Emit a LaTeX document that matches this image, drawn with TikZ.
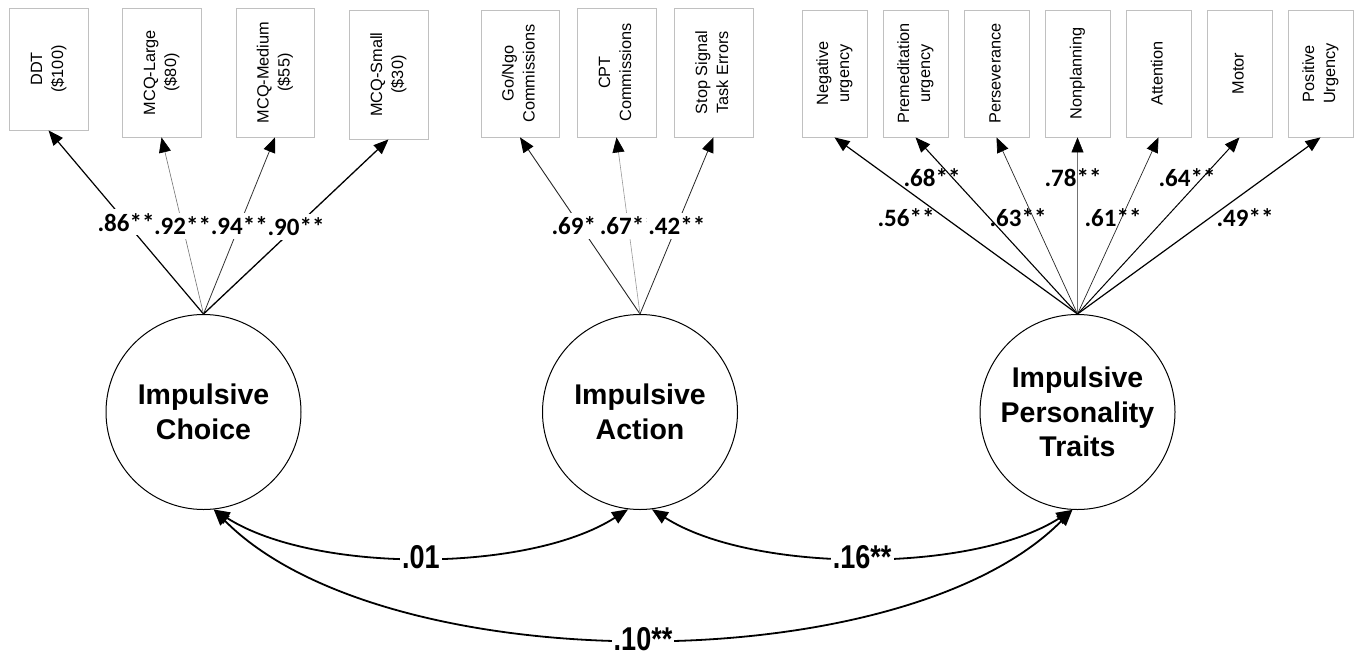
\documentclass[tikz,border=0pt]{standalone}
\usepackage{fontspec}
\setmainfont{Liberation Sans}
\newfontfamily\calfont{Carlito}
\usetikzlibrary{arrows.meta}
\definecolor{boxgray}{HTML}{C0C0C0}
\newcommand\vtext[1]{\rotatebox{90}{\begin{tabular}{@{}c@{}}#1\end{tabular}}}
\newcommand\narrow[1]{\scalebox{0.82}[1]{#1}}
\begin{document}
\begin{tikzpicture}[x=1pt,y=-1pt,
  obs/.style={draw=boxgray, line width=0.8pt, inner sep=0pt, fill=white, font=\fontsize{16.3}{21}\selectfont},
  lat/.style={circle, draw=black, line width=1pt, minimum size=195pt, inner sep=0pt, align=center, font=\fontsize{28.5}{34.5}\selectfont\bfseries},
  load/.style={-{Triangle[length=15pt,width=12pt,color=black]}},
  ldlbl/.style={fill=white, text=black, inner xsep=1.5pt, inner ysep=4pt, font=\calfont\bfseries\fontsize{25}{25}\selectfont},
  plbl/.style={inner sep=0pt, text=black, font=\calfont\bfseries\fontsize{25}{25}\selectfont},
  cov/.style={{Triangle[length=16pt,width=13pt]}-{Triangle[length=16pt,width=13pt]}, line width=1.8pt},
  covlbl/.style={fill=white, inner sep=2pt, font=\bfseries\fontsize{33}{33}\selectfont},
]
\useasboundingbox (0,0) rectangle (1360,656);

% observed indicators
\node[obs, minimum width=79pt, minimum height=122pt] (ddt) at (48.5,69) {\vtext{DDT\\(\$100)}};
\node[obs, minimum width=79pt, minimum height=129pt] (mcql) at (161.5,72.5) {\vtext{MCQ-Large\\(\$80)}};
\node[obs, minimum width=78pt, minimum height=129pt] (mcqm) at (275,72.5) {\vtext{MCQ-Medium\\(\$55)}};
\node[obs, minimum width=79pt, minimum height=129pt] (mcqs) at (388.5,74.5) {\vtext{MCQ-Small\\(\$30)}};

\node[obs, minimum width=78pt, minimum height=127pt] (gng) at (520,73.5) {\vtext{Go/Ngo\\Commissions}};
\node[obs, minimum width=79pt, minimum height=129pt] (cpt) at (616.5,72.5) {\vtext{CPT\\Commissions}};
\node[obs, minimum width=79pt, minimum height=129pt] (sst) at (713.5,72.5) {\vtext{Stop Signal\\Task Errors}};

\node[obs, minimum width=65pt, minimum height=127pt] (negu) at (834.5,73.5) {\vtext{Negative\\urgency}};
\node[obs, minimum width=65pt, minimum height=127pt] (prem) at (915.5,73.5) {\vtext{Premeditation\\urgency}};
\node[obs, minimum width=65pt, minimum height=127pt] (pers) at (996.5,73.5) {\vtext{Perseverance}};
\node[obs, minimum width=65pt, minimum height=127pt] (nonp) at (1077.5,73.5) {\vtext{Nonplanning}};
\node[obs, minimum width=65pt, minimum height=127pt] (attn) at (1158.5,73.5) {\vtext{Attention}};
\node[obs, minimum width=65pt, minimum height=127pt] (motr) at (1239.5,73.5) {\vtext{Motor}};
\node[obs, minimum width=65pt, minimum height=127pt] (posu) at (1320.5,73.5) {\vtext{Positive\\Urgency}};

% latent factors
\node[lat] (choice) at (203.5,412) {Impulsive\\Choice};
\node[lat] (action) at (640,412) {Impulsive\\Action};
\node[lat] (traits) at (1077.5,412) {Impulsive\\Personality\\Traits};

% loadings: impulsive choice
\draw[load, line width=1.2pt, black] (choice.north) -- node[ldlbl]{.86**} (ddt.south);
\draw[load, line width=0.6pt, black!55] (choice.north) -- node[ldlbl]{.92**} (mcql.south);
\draw[load, line width=0.8pt, black!80] (choice.north) -- node[ldlbl]{.94**} (mcqm.south);
\draw[load, line width=1.3pt, black] (choice.north) -- node[ldlbl]{.90**} (mcqs.south);

% loadings: impulsive action
\draw[load, line width=0.9pt, black!85] (action.north) -- node[ldlbl]{.69**} (gng.south);
\draw[load, line width=0.6pt, black!40] (action.north) -- node[ldlbl]{.67**} (cpt.south);
\draw[load, line width=0.8pt, black!85] (action.north) -- node[ldlbl]{.42**} (sst.south);

% loadings: personality traits
\draw[load, line width=1.2pt, black] (traits.north) -- (negu.south);
\draw[load, line width=1.1pt, black] (traits.north) -- (prem.south);
\draw[load, line width=0.7pt, black!85] (traits.north) -- (pers.south);
\draw[load, line width=0.5pt, black!55] (traits.north) -- (nonp.south);
\draw[load, line width=0.7pt, black!85] (traits.north) -- (attn.south);
\draw[load, line width=1.0pt, black] (traits.north) -- (motr.south);
\draw[load, line width=1.2pt, black] (traits.north) -- (posu.south);
\node[plbl] (l56) at (906,218) {.56**};
\node[plbl] (l68) at (932,178) {.68**};
\node[plbl] (l63) at (1018,218) {.63**};
\node[plbl] (l78) at (1073,178) {.78**};
\node[plbl] (l61) at (1113,218) {.61**};
\node[plbl] (l64) at (1187,178) {.64**};
\node[plbl] (l49) at (1245,218) {.49**};

% covariances
\draw[cov] (choice.-84) .. controls +(170,172) and +(-170,172) .. node[covlbl]{\narrow{.10**}} (traits.-93);
\draw[cov] (choice.-84) .. controls +(100,64) and +(-100,64) .. node[covlbl]{\narrow{.01}} (action.-97);
\draw[cov] (action.-83) .. controls +(100,64) and +(-100,64) .. node[covlbl]{\narrow{.16**}} (traits.-93);
\end{tikzpicture}
\end{document}
